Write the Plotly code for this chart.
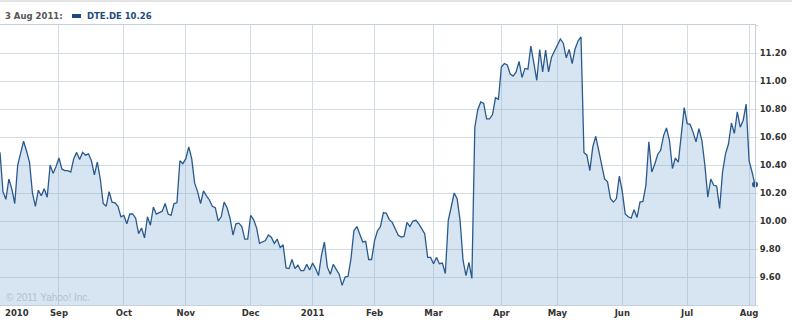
import pandas as pd
import plotly.graph_objects as go

# ---- data: DTE.DE daily closes (EUR), grouped by month ----
aug_2010 = [10.49, 10.21, 10.155, 10.30, 10.23, 10.125, 10.40, 10.49, 10.57, 10.50,
            10.42, 10.20, 10.105, 10.22, 10.18, 10.23, 10.17, 10.40, 10.34, 10.39]
sep_2010 = [10.45, 10.37, 10.36, 10.36, 10.35, 10.445, 10.49, 10.44, 10.49, 10.47, 10.48,
            10.43, 10.33, 10.42, 10.30, 10.125, 10.105, 10.21, 10.135, 10.13, 10.105, 10.03]
oct_2010 = [10.04, 9.98, 10.05, 10.05, 10.02, 9.91, 9.95, 9.88, 10.03, 9.97, 10.10,
            10.05, 10.06, 10.07, 10.125, 10.05, 10.04, 10.125, 10.13, 10.43, 10.41]
nov_2010 = [10.445, 10.53, 10.445, 10.27, 10.21, 10.125, 10.215, 10.18, 10.15, 10.105, 10.095,
            10.00, 10.03, 10.135, 10.095, 10.02, 9.90, 9.98, 9.985, 9.96, 9.87, 9.87]
dec_2010 = [10.04, 10.01, 9.95, 9.84, 9.85, 9.86, 9.90, 9.885, 9.84, 9.87, 9.81,
            9.83, 9.665, 9.66, 9.725, 9.66, 9.685, 9.645, 9.645, 9.69, 9.65]
jan_2011 = [9.70, 9.66, 9.61, 9.755, 9.85, 9.67, 9.62, 9.69, 9.65, 9.62, 9.54,
            9.60, 9.605, 9.73, 9.93, 9.96, 9.905, 9.85, 9.855, 9.725, 9.725]
feb_2011 = [9.86, 9.93, 9.96, 10.06, 10.055, 10.01, 9.99, 9.945, 9.90, 9.885,
            9.89, 9.99, 9.96, 10.00, 10.005, 9.98, 9.945, 9.91, 9.74, 9.74]
mar_2011 = [9.695, 9.74, 9.695, 9.70, 9.625, 10.005, 10.10, 10.20, 10.16, 10.005, 9.72, 9.61,
            9.705, 9.59, 10.67, 10.795, 10.85, 10.84, 10.73, 10.73, 10.76, 10.88, 10.87]
apr_2011 = [11.10, 11.125, 11.115, 11.05, 11.035, 11.065, 11.14, 11.025, 11.09, 11.085,
            11.25, 11.13, 11.005, 11.225, 11.065, 11.22, 11.065, 11.17, 11.21]
may_2011 = [11.26, 11.30, 11.27, 11.165, 11.225, 11.125, 11.23, 11.285, 11.315, 10.49, 10.47,
            10.36, 10.53, 10.605, 10.505, 10.40, 10.30, 10.28, 10.16, 10.135, 10.16, 10.32]
jun_2011 = [10.21, 10.05, 10.03, 10.02, 10.08, 10.025, 10.135, 10.14, 10.255, 10.565, 10.35,
            10.405, 10.475, 10.505, 10.61, 10.665, 10.575, 10.375, 10.45, 10.42, 10.60, 10.81]
jul_2011 = [10.695, 10.69, 10.635, 10.565, 10.66, 10.575, 10.40, 10.17, 10.30, 10.255, 10.25,
            10.09, 10.35, 10.48, 10.55, 10.70, 10.625, 10.78, 10.67, 10.72, 10.835]
aug_2011 = [10.43, 10.35, 10.26]

closes = (aug_2010 + sep_2010 + oct_2010 + nov_2010 + dec_2010 + jan_2011 + feb_2011 +
          mar_2011 + apr_2011 + may_2011 + jun_2011 + jul_2011 + aug_2011)

exchange_holidays = ["2010-12-24", "2010-12-31", "2011-04-22", "2011-04-25"]
dates = [d for d in pd.bdate_range("2010-08-04", "2011-08-03")
         if d.strftime("%Y-%m-%d") not in exchange_holidays]
dates = dates[:len(closes)]
date_labels = [d.strftime("%Y-%m-%d") for d in dates]

month_labels = ["Sep", "Oct", "Nov", "Dec", "2011", "Feb", "Mar", "Apr", "May", "Jun", "Jul", "Aug"]
first_label = "2010"
y_ticks = [9.60, 9.80, 10.00, 10.20, 10.40, 10.60, 10.80, 11.00, 11.20]
y_grid = [9.40] + y_ticks + [11.40]
symbol = "DTE.DE"
last_date_text = "3 Aug 2011:"

# first trading day of each month (from September on)
month_starts = []
seen = set()
for d, lab in zip(dates, date_labels):
    key = (d.year, d.month)
    if key not in seen:
        seen.add(key)
        month_starts.append(lab)
month_starts = month_starts[1:]

# ---- figure ----
W, H = 792, 322
ML, MR, MT, MB = 0, 37, 25, 17
PW, PH = W - ML - MR, H - MT - MB

def px_x(p):
    return (p - ML) / PW

def px_y(p):
    return (H - MB - p) / PH

LINE = "#2a5a8c"
GRID = "#d3dbe3"
TXT = "#333333"
FONT = "DejaVu Sans"

fig = go.Figure()
fig.add_trace(go.Scatter(
    x=date_labels, y=closes, mode="lines",
    line=dict(color=LINE, width=1.3),
    fill="tozeroy", fillcolor="rgba(120,170,210,0.30)",
    hoverinfo="skip", showlegend=False,
))
fig.add_trace(go.Scatter(
    x=[date_labels[-1]], y=[closes[-1]], mode="markers",
    marker=dict(color=LINE, size=6), cliponaxis=False,
    hoverinfo="skip", showlegend=False,
))

fig.update_layout(
    width=W, height=H,
    margin=dict(l=ML, r=MR, t=MT, b=MB, pad=0),
    paper_bgcolor="white", plot_bgcolor="white",
    font=dict(family=FONT, size=8.5, color=TXT),
    xaxis=dict(
        type="category", range=[0, len(closes) - 1],
        tickmode="array", tickvals=month_starts, ticktext=month_labels,
        showgrid=True, gridcolor=GRID, gridwidth=1,
        showline=True, linecolor="#c4d0dc", linewidth=1, mirror=True,
        ticks="", tickfont=dict(family=FONT, size=8.5, color=TXT, weight="bold"),
        fixedrange=True,
    ),
    yaxis=dict(
        side="right", range=[y_grid[0], y_grid[-1]],
        tickmode="array", tickvals=y_grid,
        ticktext=["" if v in (y_grid[0], y_grid[-1]) else f"{v:.2f}" for v in y_grid],
        showgrid=True, gridcolor=GRID, gridwidth=1,
        showline=True, linecolor="#c4d0dc", linewidth=1, mirror=True,
        ticks="outside", ticklen=2, tickcolor=GRID,
        tickfont=dict(family=FONT, size=8.5, color=TXT, weight="bold"),
        zeroline=False, fixedrange=True,
    ),
)

# header strip
fig.add_shape(type="line", xref="paper", yref="paper",
              x0=px_x(0), x1=px_x(W), y0=px_y(1), y1=px_y(1),
              line=dict(color="#c8c8c8", width=1))
fig.add_annotation(xref="paper", yref="paper", x=px_x(3), y=px_y(16),
                   xanchor="left", yanchor="middle", showarrow=False,
                   text=last_date_text,
                   font=dict(family=FONT, size=8.5, color="#555555", weight="bold"))
fig.add_shape(type="rect", xref="paper", yref="paper",
              x0=px_x(72), x1=px_x(81), y0=px_y(18), y1=px_y(14),
              fillcolor="#1f4a7c", line=dict(width=0))
fig.add_annotation(xref="paper", yref="paper", x=px_x(85), y=px_y(16),
                   xanchor="left", yanchor="middle", showarrow=False,
                   text=f"{symbol} {closes[-1]:.2f}",
                   font=dict(family=FONT, size=8.5, color="#1f4a7c", weight="bold"))

# first (partial) month label, left-aligned at the plot edge
fig.add_annotation(xref="paper", yref="paper", x=px_x(3), y=px_y(313),
                   xanchor="left", yanchor="middle", showarrow=False,
                   text=first_label,
                   font=dict(family=FONT, size=8.5, color=TXT, weight="bold"))

# copyright
fig.add_annotation(xref="paper", yref="paper", x=px_x(4), y=px_y(297),
                   xanchor="left", yanchor="middle", showarrow=False,
                   text="© 2011 Yahoo! Inc.",
                   font=dict(family="Liberation Sans", size=10, color="#b4c2cf"))

fig.write_html("out.html")
